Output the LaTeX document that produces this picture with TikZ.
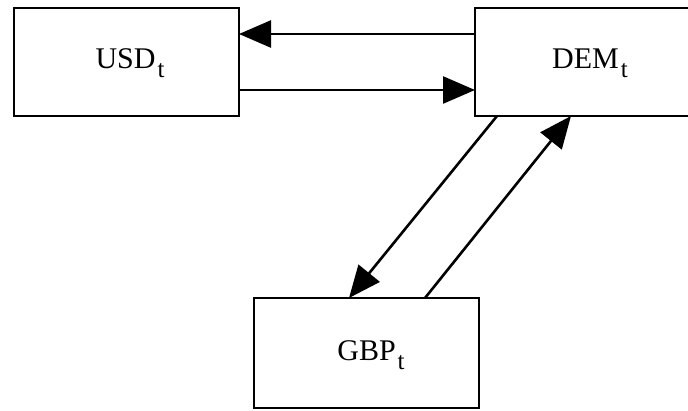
\documentclass[tikz,border=0pt]{standalone}
\usepackage{fontspec}
\setmainfont{Liberation Serif}
\usetikzlibrary{arrows.meta}
\newcommand\mysubt{\kern2pt\raisebox{-9pt}{\fontsize{25}{25}\selectfont t}}
\begin{document}
\begin{tikzpicture}[x=1pt,y=-1pt,
  cbox/.style={draw,line width=2.6pt,fill=white},
  lbl/.style={font=\fontsize{30}{30}\selectfont,inner sep=0pt},
  conn/.style={line width=2.6pt,-{Triangle[length=32pt,width=27pt]}}]
\useasboundingbox (0,0) rectangle (688,410);
\begin{scope}
\clip (0,0) rectangle (688,410);
\draw[cbox] (14,8) rectangle (239,116);
\draw[cbox] (475,8) rectangle (700,116);
\draw[cbox] (254,298) rectangle (479,408);
\end{scope}
\node[lbl] (usd) at (130,63) {USD\mysubt};
\node[lbl] (dem) at (590,63) {DEM\mysubt};
\node[lbl] (gbp) at (371,355) {GBP\mysubt};
\coordinate (usdTR) at (239,34);
\coordinate (usdBR) at (239,90);
\coordinate (demTL) at (475,34);
\coordinate (demBL) at (475,90);
\coordinate (demB1) at (497,116);
\coordinate (demB2) at (571,116);
\coordinate (gbpT1) at (349,298);
\coordinate (gbpT2) at (425,298);
\draw[conn] (demTL) -- (usdTR);
\draw[conn] (usdBR) -- (demBL);
\draw[conn] (demB1) -- (gbpT1);
\draw[conn] (gbpT2) -- (demB2);
\end{tikzpicture}
\end{document}
